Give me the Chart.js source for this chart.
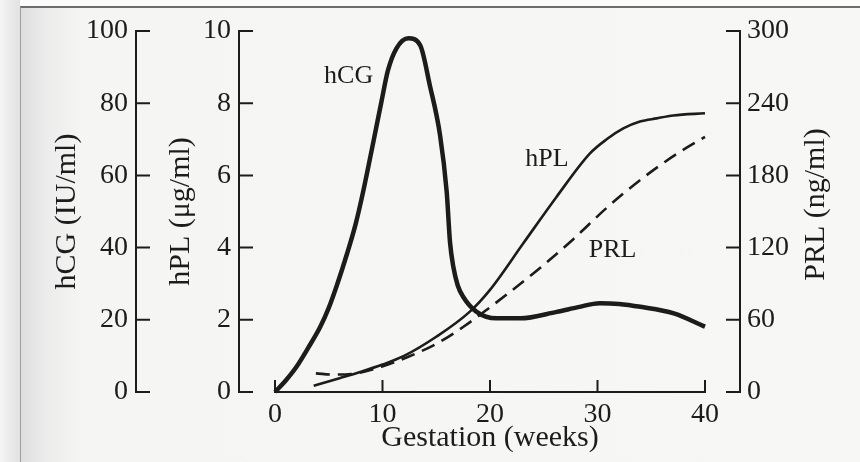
<!DOCTYPE html>
<html>
<head>
<meta charset="utf-8">
<script src="https://cdn.jsdelivr.net/npm/chart.js@4.4.1/dist/chart.umd.min.js"></script>
<style>
  html, body { margin: 0; padding: 0; background: #fbfbfa; }
  .page {
    position: relative;
    width: 860px; height: 462px; overflow: hidden;
    background: #fbfbfa;
  }
  .scan {
    position: absolute; left: 20px; top: 6px; right: 0; bottom: 0;
    border-top: 2px solid #6c6c6c;
    border-left: 1px solid #a0a0a0;
    background: linear-gradient(to right, #dedede 0px, #ececec 25px, #f5f5f3 60px, #f7f7f5 100%);
  }
  .strip {
    position: absolute; left: 0; top: 0; width: 20px; bottom: 0;
    background: linear-gradient(to right, #f4f4f4, #e2e2e2);
  }
  #wrap { position: absolute; left: 0; top: 0; width: 860px; height: 462px; }
</style>
</head>
<body>
<div class="page">
  <div class="strip"></div>
  <div class="scan"></div>
  <div id="wrap"><canvas id="hormoneChart"></canvas></div>
</div>
<script>
// hCG curve (IU/ml), gestation in weeks
const hcgWeeks = [0, 1, 2, 3.1, 4.2, 5.0, 5.75, 6.7, 7.5, 8.2, 9.15, 9.9, 10.5, 11.3, 12.4, 13.5, 14.4, 15.35, 15.97, 16.28, 16.6, 17.0, 17.5, 18.76, 20.6, 22.8, 26.2, 28.2, 30.2, 32.0, 34.0, 37.1, 40.0];
const hcgValues = [0, 3.2, 7, 12.3, 18, 23.3, 29.5, 38.3, 46.5, 55.5, 69.3, 80.4, 89, 95.2, 98, 96.1, 85, 71.2, 55.5, 41.5, 34.5, 29.5, 26.4, 22.2, 20.4, 20.4, 22.2, 23.5, 24.6, 24.4, 23.6, 21.8, 18.1];

// hPL curve (ug/ml)
const hplWeeks = [3.6, 6.0, 8.0, 10.0, 12.0, 15.0, 18.1, 20.0, 23.1, 26.2, 29.3, 30.85, 32.4, 33.95, 35.5, 37.05, 40.0];
const hplValues = [0.17, 0.38, 0.56, 0.76, 1.0, 1.53, 2.22, 2.83, 4.12, 5.41, 6.61, 7.0, 7.3, 7.49, 7.58, 7.66, 7.72];

// PRL curve (ng/ml), dashed
const prlWeeks = [3.8, 5.5, 7.1, 9.9, 12.4, 15.0, 17.5, 20.0, 21.55, 24.65, 27.75, 30.85, 33.95, 37.4, 40.0];
const prlValues = [15.5, 14.5, 15, 21, 29.3, 40, 54, 70.4, 81, 103, 127, 153, 176, 198, 212];

const weekTicks = [0, 10, 20, 30, 40];
const hcgTicks = [0, 20, 40, 60, 80, 100];
const hplTicks = [0, 2, 4, 6, 8, 10];
const prlTicks = [0, 60, 120, 180, 240, 300];

const ink = '#1c1c1c';
const serif = '"Liberation Serif", "DejaVu Serif", serif';

function toPoints(xs, ys) {
  return xs.map((x, i) => ({ x: x, y: ys[i] }));
}

// which ticks to show on each axis
function fixedTicks(values) {
  return function (scale) {
    scale.ticks = values.map(v => ({ value: v }));
  };
}

// fixed box size, no extra label padding pushed onto the chart area
function boxSize(w, h) {
  return function (s) {
    if (w) s.width = w;
    if (h) s.height = h;
    s.paddingTop = 0; s.paddingBottom = 0;
    s.paddingLeft = 0; s.paddingRight = 0;
  };
}

// axis lines, inward tick marks, curve labels and the right title
const axisDecor = {
  id: 'axisDecor',
  afterDraw(chart) {
    const { ctx, chartArea, scales } = chart;
    const x = scales.x, yc = scales.yHCG, yh = scales.yHPL, yp = scales.yPRL;
    ctx.save();
    ctx.strokeStyle = ink;
    ctx.lineWidth = 2;
    ctx.lineCap = 'square';

    function vAxis(scale, ax, ticks, dir) {
      ctx.beginPath();
      ctx.moveTo(ax, scale.getPixelForValue(ticks[0]));
      ctx.lineTo(ax, scale.getPixelForValue(ticks[ticks.length - 1]));
      ticks.forEach(t => {
        const py = scale.getPixelForValue(t);
        ctx.moveTo(ax, py);
        ctx.lineTo(ax + dir * 13, py);
      });
      ctx.stroke();
    }
    vAxis(yc, yc.right, hcgTicks, 1);
    vAxis(yh, yh.right - 36, hplTicks, 1);
    vAxis(yp, yp.left + 35, prlTicks, -1);

    // gestation axis
    const by = chartArea.bottom;
    ctx.beginPath();
    ctx.moveTo(x.getPixelForValue(0), by);
    ctx.lineTo(x.getPixelForValue(40), by);
    weekTicks.forEach(t => {
      const px = x.getPixelForValue(t);
      ctx.moveTo(px, by);
      ctx.lineTo(px, by - 11);
    });
    ctx.stroke();

    // curve names
    ctx.fillStyle = ink;
    ctx.font = '26px ' + serif;
    ctx.textAlign = 'center';
    ctx.textBaseline = 'middle';
    ctx.fillText('hCG', x.getPixelForValue(6.85), yc.getPixelForValue(87.5));
    ctx.fillText('hPL', x.getPixelForValue(25.3), yh.getPixelForValue(6.45));
    ctx.fillText('PRL', x.getPixelForValue(31.4), yp.getPixelForValue(118));

    // right axis title reads bottom to top
    ctx.font = '30px ' + serif;
    ctx.translate(816, (yp.top + yp.bottom) / 2 - 7);
    ctx.rotate(-Math.PI / 2);
    ctx.fillText('PRL (ng/ml)', 0, 0);
    ctx.restore();
  }
};

const tickFont = { family: serif, size: 28 };
const titleFont = { family: serif, size: 30 };

const chart = new Chart(document.getElementById('hormoneChart'), {
  type: 'line',
  plugins: [axisDecor],
  data: {
    datasets: [
      {
        label: 'hCG',
        data: toPoints(hcgWeeks, hcgValues),
        yAxisID: 'yHCG',
        borderColor: ink,
        borderWidth: 4.5,
        cubicInterpolationMode: 'monotone',
        pointRadius: 0,
        clip: 8
      },
      {
        label: 'hPL',
        data: toPoints(hplWeeks, hplValues),
        yAxisID: 'yHPL',
        borderColor: ink,
        borderWidth: 2.6,
        cubicInterpolationMode: 'monotone',
        pointRadius: 0,
        clip: 8
      },
      {
        label: 'PRL',
        data: toPoints(prlWeeks, prlValues),
        yAxisID: 'yPRL',
        borderColor: ink,
        borderWidth: 2.6,
        borderDash: [14, 8],
        cubicInterpolationMode: 'monotone',
        pointRadius: 0,
        clip: 8
      }
    ]
  },
  options: {
    responsive: true,
    maintainAspectRatio: false,
    animation: false,
    events: [],
    layout: { padding: { top: 31, left: 0, right: 0, bottom: 0 } },
    plugins: { legend: { display: false }, tooltip: { enabled: false } },
    scales: {
      x: {
        type: 'linear',
        position: 'bottom',
        min: 0, max: 40,
        afterBuildTicks: fixedTicks(weekTicks),
        afterFit: boxSize(0, 70),
        grid: { display: false, drawTicks: false },
        border: { display: false },
        ticks: { color: ink, font: tickFont, padding: 6, maxRotation: 0 },
        title: { display: true, text: 'Gestation (weeks)', color: ink, font: titleFont, padding: { top: 0, bottom: 6 } }
      },
      yHCG: {
        type: 'linear',
        position: 'left',
        weight: 2,
        min: 0, max: 100,
        afterBuildTicks: fixedTicks(hcgTicks),
        afterFit: boxSize(136, 0),
        grid: { display: false, drawTicks: false },
        border: { display: false },
        ticks: { color: ink, font: tickFont, padding: 8 },
        title: { display: true, text: 'hCG (IU/ml)', color: ink, font: titleFont, padding: { top: 49, bottom: 0 } }
      },
      yHPL: {
        type: 'linear',
        position: 'left',
        weight: 1,
        min: 0, max: 10,
        afterBuildTicks: fixedTicks(hplTicks),
        afterFit: boxSize(139, 0),
        grid: { display: false, drawTicks: false },
        border: { display: false },
        ticks: { color: ink, font: tickFont, padding: 44 },
        title: { display: true, text: 'hPL (\u03bcg/ml)', color: ink, font: titleFont, padding: { top: 27, bottom: 0 } }
      },
      yPRL: {
        type: 'linear',
        position: 'right',
        min: 0, max: 300,
        afterBuildTicks: fixedTicks(prlTicks),
        afterFit: boxSize(155, 0),
        grid: { display: false, drawTicks: false },
        border: { display: false },
        ticks: { color: ink, font: tickFont, padding: 42 }
      }
    }
  }
});
</script>
</body>
</html>
